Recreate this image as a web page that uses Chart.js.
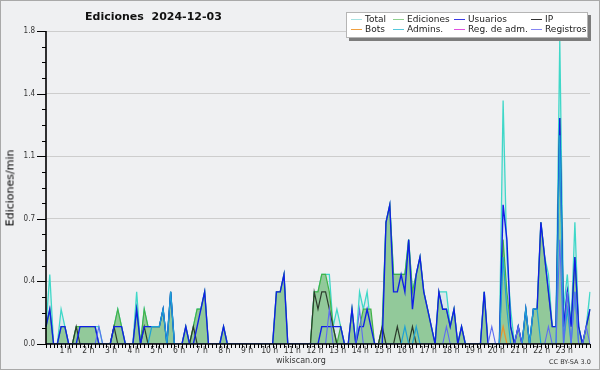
<!DOCTYPE html>
<html>
<head>
<meta charset="utf-8">
<script src="https://cdn.jsdelivr.net/npm/chart.js@4.4.1/dist/chart.umd.min.js"></script>
<style>
  body { margin: 0; background: #fff; }
  #wrap { position: relative; width: 600px; height: 370px; background: #eff0f2; box-shadow: inset 0 0 0 1px #a9a9a9; overflow: hidden; font-family: "DejaVu Sans", sans-serif; color: #111; }
  #wrap canvas { position: absolute; left: 0; top: 0; }
  .title { position: absolute; left: 85px; top: 9.5px; font-weight: bold; font-size: 11px; white-space: pre; }
  .ytitle { position: absolute; left: 10px; top: 188px; transform: translate(-50%, -50%) rotate(-90deg); font-size: 11px; white-space: nowrap; color: #000; }
  .legend { position: absolute; left: 346px; top: 12px; width: 242px; height: 26px; box-sizing: border-box; background: #fff; border: 1px solid #b5b5b5; box-shadow: 3px 3px 0 #7c7c7c; }
  .legend .item { position: absolute; font-size: 9px; line-height: 10px; color: #222; white-space: nowrap; }
  .legend .item i { display: inline-block; width: 11px; height: 0; border-top: 1px solid; vertical-align: middle; margin-right: 3px; }
  .foot { position: absolute; color: #333; white-space: nowrap; }
</style>
</head>
<body>
<div id="wrap">
  <canvas id="chart" width="600" height="370"></canvas>
  <div class="title">Ediciones  2024-12-03</div>
  <div class="ytitle">Ediciones/min</div>
  <div class="legend" id="legend"></div>
  <div class="foot" style="left:276px; top:356px; font-size:8px;">wikiscan.org</div>
  <div class="foot" style="left:549px; top:358px; font-size:6.5px;">CC BY-SA 3.0</div>
</div>
<script>
// 10-minute slots, one row per hour
const slots = [];
for (let h = 0; h <= 24; h++) {
  for (let m = 0; m < 60; m += 10) {
    if (h === 24 && m > 0) break;
    slots.push(String(h).padStart(2, "0") + ":" + String(m).padStart(2, "0"));
  }
}

const hourTicks = ["", "1 h", "2 h", "3 h", "4 h", "5 h", "6 h", "7 h", "8 h", "9 h", "10 h", "11 h",
  "12 h", "13 h", "14 h", "15 h", "16 h", "17 h", "18 h", "19 h", "20 h", "21 h", "22 h", "23 h", ""];

const yTicks = [0, 0.36, 0.72, 1.08, 1.44, 1.8];

const total = [
  0.1, 0.4, 0, 0, 0.2, 0.1,
  0, 0, 0.1, 0.1, 0.1, 0.1,
  0.1, 0.1, 0.1, 0, 0, 0,
  0.1, 0.2, 0.1, 0, 0, 0,
  0.3, 0, 0.2, 0.1, 0.1, 0.1,
  0.1, 0.2, 0, 0.3, 0, 0,
  0, 0.1, 0, 0.1, 0.2, 0.2,
  0.3, 0, 0, 0, 0, 0.1,
  0, 0, 0, 0, 0, 0,
  0, 0, 0, 0, 0, 0,
  0, 0.3, 0.3, 0.4, 0, 0,
  0, 0, 0, 0, 0, 0.3,
  0.3, 0.4, 0.4, 0.4, 0.1, 0.2,
  0.1, 0, 0, 0.2, 0, 0.3,
  0.2, 0.3, 0.1, 0, 0, 0.1,
  0.7, 0.8, 0.4, 0.4, 0.4, 0.4,
  0.6, 0.3, 0.4, 0.5, 0.3, 0.2,
  0.1, 0, 0.3, 0.3, 0.3, 0.1,
  0.2, 0, 0.1, 0, 0, 0,
  0, 0, 0.3, 0, 0, 0,
  0, 1.4, 0.5, 0.2, 0, 0.1,
  0, 0.2, 0, 0.2, 0.2, 0.7,
  0.5, 0.4, 0.1, 0.1, 1.75, 0.2,
  0.4, 0.1, 0.7, 0.1, 0, 0.1,
  0.3
];

const editions = [
  0.1, 0.2, 0, 0, 0.1, 0.1,
  0, 0, 0.1, 0.1, 0.1, 0.1,
  0.1, 0.1, 0, 0, 0, 0,
  0.1, 0.2, 0.1, 0, 0, 0,
  0.2, 0, 0.2, 0.1, 0.1, 0.1,
  0.1, 0.2, 0, 0.3, 0, 0,
  0, 0.1, 0, 0.1, 0.2, 0.2,
  0.3, 0, 0, 0, 0, 0.1,
  0, 0, 0, 0, 0, 0,
  0, 0, 0, 0, 0, 0,
  0, 0.3, 0.3, 0.4, 0, 0,
  0, 0, 0, 0, 0, 0.3,
  0.3, 0.4, 0.4, 0.3, 0.1, 0,
  0.1, 0, 0, 0.2, 0, 0.1,
  0.2, 0.2, 0.2, 0, 0, 0.1,
  0.7, 0.8, 0.4, 0.4, 0.4, 0.4,
  0.6, 0.3, 0.4, 0.5, 0.3, 0.2,
  0.1, 0, 0.3, 0.2, 0.2, 0.1,
  0.2, 0, 0.1, 0, 0, 0,
  0, 0, 0.3, 0, 0, 0,
  0, 0.6, 0.3, 0.1, 0, 0.1,
  0, 0.2, 0, 0.2, 0.2, 0.7,
  0.5, 0.3, 0.1, 0.1, 1.3, 0.1,
  0.3, 0.1, 0.5, 0.1, 0, 0.1,
  0.2
];

const users = [
  0.1, 0.2, 0, 0, 0.1, 0.1,
  0, 0, 0, 0.1, 0.1, 0.1,
  0.1, 0.1, 0, 0, 0, 0,
  0.1, 0.1, 0.1, 0, 0, 0,
  0.2, 0, 0.1, 0.1, 0.1, 0.1,
  0.1, 0.2, 0, 0.3, 0, 0,
  0, 0.1, 0, 0, 0.1, 0.2,
  0.3, 0, 0, 0, 0, 0.1,
  0, 0, 0, 0, 0, 0,
  0, 0, 0, 0, 0, 0,
  0, 0.3, 0.3, 0.4, 0, 0,
  0, 0, 0, 0, 0, 0,
  0, 0.1, 0.1, 0.1, 0.1, 0.1,
  0.1, 0, 0, 0.2, 0, 0.1,
  0.1, 0.2, 0.1, 0, 0, 0,
  0.7, 0.8, 0.3, 0.3, 0.4, 0.3,
  0.6, 0.2, 0.4, 0.5, 0.3, 0.2,
  0.1, 0, 0.3, 0.2, 0.2, 0.1,
  0.2, 0, 0.1, 0, 0, 0,
  0, 0, 0.3, 0, 0, 0,
  0, 0.8, 0.6, 0.1, 0, 0.1,
  0, 0.2, 0, 0.2, 0.2, 0.7,
  0.5, 0.3, 0.1, 0.1, 1.3, 0.1,
  0.3, 0.1, 0.5, 0.1, 0, 0.1,
  0.2
];

const ip = [
  0, 0, 0, 0, 0, 0,
  0, 0, 0.1, 0, 0, 0,
  0, 0, 0, 0, 0, 0,
  0.1, 0, 0, 0, 0, 0,
  0, 0, 0.1, 0, 0, 0,
  0, 0, 0, 0, 0, 0,
  0, 0, 0, 0.1, 0, 0,
  0, 0, 0, 0, 0, 0,
  0, 0, 0, 0, 0, 0,
  0, 0, 0, 0, 0, 0,
  0, 0, 0, 0, 0, 0,
  0, 0, 0, 0, 0, 0.3,
  0.2, 0.3, 0.3, 0.2, 0.1, 0,
  0, 0, 0, 0, 0, 0,
  0, 0, 0, 0, 0, 0.1,
  0, 0, 0, 0.1, 0, 0,
  0, 0.1, 0, 0, 0, 0,
  0, 0, 0, 0, 0, 0,
  0, 0, 0, 0, 0, 0,
  0, 0, 0, 0, 0, 0,
  0, 0, 0, 0, 0, 0,
  0, 0, 0, 0, 0, 0,
  0, 0, 0, 0, 0, 0,
  0, 0, 0, 0, 0, 0,
  0
];

const bots = [
  0, 0, 0, 0, 0, 0,
  0, 0, 0, 0, 0, 0,
  0, 0, 0, 0, 0, 0,
  0, 0, 0, 0, 0, 0,
  0, 0, 0, 0, 0, 0,
  0, 0, 0, 0, 0, 0,
  0, 0, 0, 0, 0, 0,
  0, 0, 0, 0, 0, 0,
  0, 0, 0, 0, 0, 0,
  0, 0, 0, 0, 0, 0,
  0, 0, 0, 0, 0, 0,
  0, 0, 0, 0, 0, 0,
  0, 0, 0, 0, 0, 0,
  0, 0, 0, 0, 0, 0,
  0, 0, 0, 0, 0, 0,
  0, 0, 0, 0, 0, 0,
  0, 0, 0, 0, 0, 0,
  0, 0, 0, 0, 0, 0,
  0, 0, 0, 0, 0, 0,
  0, 0, 0, 0, 0, 0,
  0, 0.1, 0, 0, 0, 0,
  0, 0, 0, 0, 0, 0,
  0, 0, 0, 0, 0, 0,
  0, 0, 0, 0, 0, 0,
  0
];

const admins = [
  0, 0, 0, 0, 0, 0,
  0, 0, 0, 0, 0, 0,
  0, 0, 0, 0, 0, 0,
  0, 0, 0, 0, 0, 0,
  0, 0, 0, 0, 0.1, 0.1,
  0.1, 0.2, 0, 0.3, 0, 0,
  0, 0, 0, 0, 0, 0,
  0, 0, 0, 0, 0, 0,
  0, 0, 0, 0, 0, 0,
  0, 0, 0, 0, 0, 0,
  0, 0, 0, 0, 0, 0,
  0, 0, 0, 0, 0, 0,
  0, 0, 0, 0, 0, 0,
  0, 0, 0, 0, 0, 0,
  0, 0, 0, 0, 0, 0,
  0, 0, 0, 0, 0, 0.1,
  0, 0, 0.1, 0, 0, 0,
  0, 0, 0, 0, 0, 0,
  0, 0, 0, 0, 0, 0,
  0, 0, 0, 0, 0, 0,
  0, 0.5, 0.2, 0, 0, 0,
  0, 0.2, 0, 0.2, 0.2, 0,
  0, 0, 0, 0, 1.2, 0,
  0.2, 0, 0.3, 0, 0, 0,
  0
];

const regAdmins = [
  0, 0, 0, 0, 0, 0,
  0, 0, 0, 0, 0, 0,
  0, 0, 0, 0, 0, 0,
  0, 0, 0, 0, 0, 0,
  0, 0, 0, 0, 0, 0,
  0, 0, 0, 0, 0, 0,
  0, 0, 0, 0, 0, 0,
  0, 0, 0, 0, 0, 0,
  0, 0, 0, 0, 0, 0,
  0, 0, 0, 0, 0, 0,
  0, 0, 0, 0, 0, 0,
  0, 0, 0, 0, 0, 0,
  0, 0, 0, 0, 0, 0,
  0, 0, 0, 0, 0, 0,
  0, 0, 0, 0, 0, 0,
  0, 0, 0, 0, 0, 0,
  0, 0, 0, 0, 0, 0,
  0, 0, 0, 0, 0, 0,
  0, 0, 0, 0, 0, 0,
  0, 0, 0, 0, 0, 0,
  0, 0, 0, 0, 0, 0,
  0, 0, 0, 0, 0, 0,
  0, 0, 0, 0, 0, 0,
  0, 0, 0, 0, 0, 0,
  0
];

const registros = [
  0, 0, 0, 0, 0, 0,
  0, 0, 0, 0, 0, 0,
  0, 0, 0.1, 0, 0, 0,
  0, 0, 0, 0, 0, 0,
  0, 0, 0, 0, 0, 0,
  0, 0, 0, 0, 0, 0,
  0, 0, 0, 0, 0, 0,
  0, 0, 0, 0, 0, 0,
  0, 0, 0, 0, 0, 0,
  0, 0, 0, 0, 0, 0,
  0, 0, 0, 0, 0, 0,
  0, 0, 0, 0, 0, 0,
  0, 0, 0, 0.2, 0, 0,
  0, 0, 0, 0, 0, 0.2,
  0, 0, 0, 0, 0, 0,
  0, 0, 0, 0, 0, 0,
  0, 0, 0, 0, 0, 0,
  0, 0, 0, 0, 0.1, 0,
  0, 0, 0, 0, 0, 0,
  0, 0, 0, 0, 0.1, 0,
  0, 0, 0, 0, 0, 0.1,
  0, 0, 0, 0, 0, 0,
  0, 0.1, 0, 0, 0.6, 0,
  0.3, 0, 0.3, 0, 0, 0.1,
  0
];

// legend (same order as the original box: 4 columns x 2 rows)
const legendItems = [
  { text: "Total", color: "#a6e2e2", col: 0, row: 0 },
  { text: "Ediciones", color: "#8fd08f", col: 1, row: 0 },
  { text: "Usuarios", color: "#3a3ae6", col: 2, row: 0 },
  { text: "IP", color: "#333333", col: 3, row: 0 },
  { text: "Bots", color: "#f0a040", col: 0, row: 1 },
  { text: "Admins.", color: "#55c8dc", col: 1, row: 1 },
  { text: "Reg. de adm.", color: "#e050e0", col: 2, row: 1 },
  { text: "Registros", color: "#8585f2", col: 3, row: 1 }
];
const colX = [4, 46, 107, 184];
const legendDiv = document.getElementById("legend");
legendItems.forEach(it => {
  const el = document.createElement("span");
  el.className = "item";
  el.style.left = colX[it.col] + "px";
  el.style.top = (it.row * 10 + 0.5) + "px";
  el.innerHTML = `<i style="border-color:${it.color}"></i>${it.text}`;
  legendDiv.appendChild(el);
});

// axis lines + tick marks drawn over the datasets
const axisMarks = {
  id: "axisMarks",
  afterDatasetsDraw(chart) {
    const { ctx, chartArea: a, scales: { x, y } } = chart;
    ctx.save();
    ctx.strokeStyle = "#000";
    ctx.lineWidth = 1;
    ctx.beginPath();
    for (let k = 0; k < yTicks.length; k++) {
      const py = Math.round(y.getPixelForValue(yTicks[k])) + 0.5;
      ctx.moveTo(a.left - 9, py); ctx.lineTo(a.left, py);
      if (k < yTicks.length - 1) {
        for (let m = 1; m < 4; m++) {
          const v = yTicks[k] + (yTicks[k + 1] - yTicks[k]) * m / 4;
          const pm = Math.round(y.getPixelForValue(v)) + 0.5;
          ctx.moveTo(a.left - 4, pm); ctx.lineTo(a.left, pm);
        }
      }
    }
    for (let k = 0; k < slots.length; k++) {
      const px = Math.round(x.getPixelForValue(k)) + 0.5;
      ctx.moveTo(px, a.bottom); ctx.lineTo(px, a.bottom + 4);
    }
    ctx.stroke();
    ctx.lineWidth = 1.6;
    ctx.beginPath();
    ctx.moveTo(a.left, a.top);
    ctx.lineTo(a.left, a.bottom);
    ctx.lineTo(a.right, a.bottom);
    ctx.stroke();
    ctx.restore();
  }
};

const line = (label, data, color, width, order, extra) => Object.assign({
  label, data, borderColor: color, borderWidth: width, order,
  pointRadius: 0, tension: 0, fill: false
}, extra || {});

new Chart(document.getElementById("chart"), {
  type: "line",
  data: {
    labels: slots,
    datasets: [
      line("Total", total, "#3fd8c8", 1.3, 8, { fill: "origin", backgroundColor: "rgba(140,200,215,0.2)" }),
      line("Ediciones", editions, "#41b348", 1.2, 7, { fill: "origin", backgroundColor: "#92c99a" }),
      line("Reg. de adm.", regAdmins, "#d040d0", 1, 6),
      line("Bots", bots, "#e8952f", 1.3, 5),
      line("IP", ip, "#2c3c2c", 1.2, 4),
      line("Usuarios", users, "#1020e6", 1.4, 3),
      line("Admins.", admins, "#1ea2d6", 1.2, 2),
      line("Registros", registros, "#5d6cf2", 1.1, 1)
    ]
  },
  options: {
    responsive: false,
    animation: false,
    devicePixelRatio: 1,
    layout: { padding: { top: 31, right: 10, left: 0, bottom: 0 } },
    plugins: { legend: { display: false }, tooltip: { enabled: false } },
    scales: {
      x: {
        type: "category",
        offset: false,
        grid: { display: false, drawTicks: false, tickLength: 0 },
        border: { display: false },
        ticks: {
          autoSkip: false, maxRotation: 0, minRotation: 0, padding: 2, labelOffset: -3,
          color: "#333", font: { family: "'DejaVu Sans Condensed', 'DejaVu Sans', sans-serif", size: 8.5 },
          callback: (v, i) => (i % 6 === 0 ? hourTicks[i / 6] : "")
        },
        afterFit: s => { s.height = 26; }
      },
      y: {
        min: 0, max: 1.8,
        afterBuildTicks: s => { s.ticks = yTicks.map(v => ({ value: v })); },
        grid: {
          drawTicks: false,
          color: c => (c.tick && c.tick.value > 0 ? "#cdcdcd" : "rgba(0,0,0,0)"),
          lineWidth: 1
        },
        border: { display: false },
        ticks: {
          padding: 11, color: "#333",
          font: { family: "'DejaVu Sans Condensed', 'DejaVu Sans', sans-serif", size: 8 },
          callback: v => Number(v).toFixed(1)
        },
        afterFit: s => { s.width = 46; }
      }
    }
  },
  plugins: [axisMarks]
});
</script>
</body>
</html>
